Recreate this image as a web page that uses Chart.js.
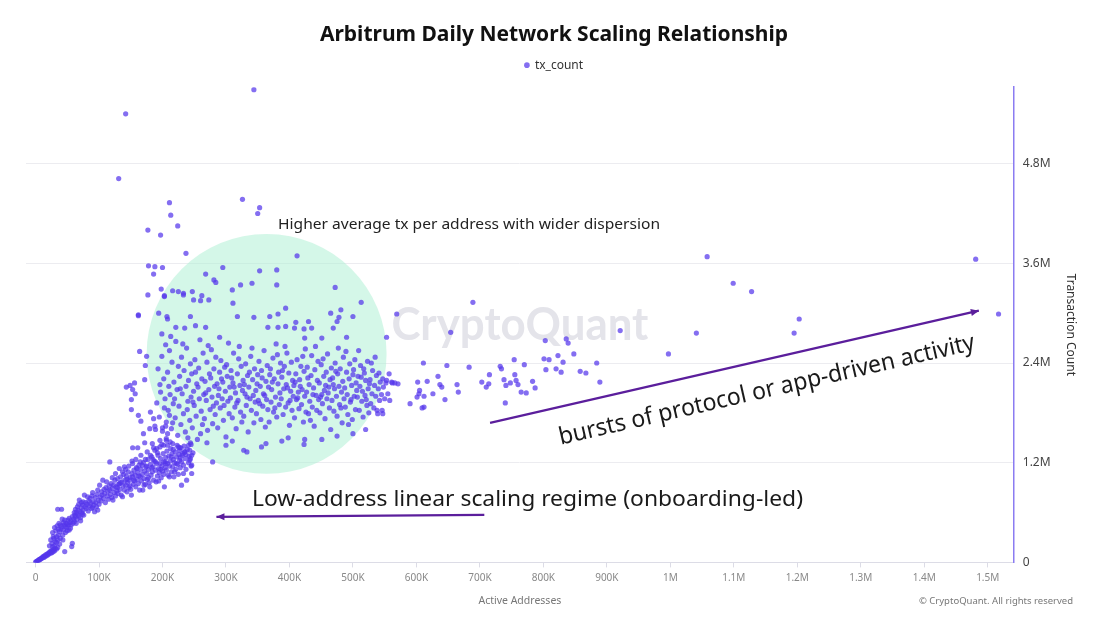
<!DOCTYPE html>
<html>
<head>
<meta charset="utf-8">
<script src="https://cdn.jsdelivr.net/npm/chart.js@4.4.1/dist/chart.umd.min.js"></script>
<style>
html,body{margin:0;padding:0;background:#fff;}
#wrap{width:1100px;height:619px;}
</style>
</head>
<body>
<div id="wrap"><canvas id="c" width="1100" height="619"></canvas></div>
<script>
// ---- DATA (active addresses in thousands, tx count in millions) ----
const lowRegime = [
[0,0.0],[1,0.01],[2,0.01],[3,0.02],[4,0.02],[5,0.03],[6,0.03],[7,0.04],[8,0.04],[9,0.05],[10,0.05],[11,0.06],[12,0.07],[13,0.06],[14,0.08],[15,0.07],[16,0.09],[17,0.08],[18,0.10],[19,0.09],[20,0.11],[21,0.10],[22,0.12],[23,0.13],[24,0.11],[25,0.14],[26,0.12],[27,0.15],[28,0.13],[29,0.16],[30,0.14],[31,0.17],[33,0.16],[35,0.18],
[27,0.19],[35,0.27],[27,0.36],[30,0.42],[33,0.31],[38,0.37],[43,0.33],[49,0.42],[54,0.48],[51,0.51],[58,0.55],[46,0.51],[41,0.43],[57,0.19],[58,0.23],[46,0.13],[35,0.64],[41,0.64],[31,0.25],[36,0.33],[39,0.29],[44,0.39],[47,0.36],[52,0.45],[55,0.41],[37,0.47],[42,0.52],[48,0.47],[29,0.29],[32,0.38],[34,0.44],[40,0.40],[45,0.45],[50,0.38],[53,0.53],[56,0.5],[60,0.52],[62,0.57],[38,0.22],[43,0.27],
[22,0.2],[24,0.27],[26,0.23],[28,0.31],[30,0.2],[33,0.24],[36,0.4],[39,0.45],[44,0.48],[47,0.43],[50,0.46],[53,0.39],[56,0.45],[59,0.47],[61,0.6],[63,0.64],[66,0.67],[68,0.7],[72,0.72],[74,0.58],
[61,0.49],[63,0.55],[64,0.6],[65,0.52],[66,0.58],[67,0.63],[68,0.56],[69,0.75],[70,0.61],[71,0.54],[72,0.66],[73,0.6],[74,0.69],[75,0.63],[76,0.57],[77,0.81],[78,0.67],[79,0.72],[80,0.65],[81,0.7],[82,0.79],[83,0.62],[84,0.74],[85,0.68],[86,0.77],[87,0.71],[88,0.65],[89,0.8],[90,0.84],[90,0.66],[91,0.73],[92,0.69],[93,0.61],[94,0.78],[95,0.72],[96,0.67],[97,0.82],[98,0.63],[98,0.87],[99,0.75],[100,0.7],[64,0.47],[71,0.5],[75,0.73],
[101,0.93],[102,0.79],[103,0.74],[104,0.85],[105,0.81],[106,0.99],[107,0.77],[108,0.88],[109,0.83],[110,0.72],[111,0.9],[112,0.97],[113,0.8],[114,0.86],[115,0.76],[116,0.92],[117,0.87],[117,1.21],[118,0.82],[119,0.95],[120,0.78],[121,0.89],[122,0.75],[123,0.93],[124,0.84],[125,0.99],[126,0.8],[127,0.91],[128,0.86],[129,1.01],[130,0.83],[131,0.94],[132,1.13],[132,0.95],[133,0.88],[134,1.03],[135,0.81],[136,0.97],[137,0.79],[138,0.92],[139,1.06],[140,1.15],[140,0.87],[141,0.99],[142,0.93],[143,1.04],[144,0.85],[145,0.96],[146,1.09],[147,0.9],[148,0.99],[149,1.02],[150,0.88],[151,0.81],[152,1.07],[153,1.03],[153,1.19],[154,0.94],[155,1.11],[156,0.98],[157,1.05],[158,0.91],[159,1.14],[160,1.0],
[161,1.08],[162,0.95],[163,1.17],[164,0.87],[165,1.03],[166,1.12],[167,0.98],[168,1.06],[169,0.87],[170,1.2],[171,1.01],[172,1.1],[173,0.94],[174,1.15],[175,1.07],[176,1.0],[177,1.24],[178,1.12],[179,0.96],[180,0.91],[181,1.18],[182,1.05],[183,1.27],[184,1.09],[185,1.15],[186,0.99],[187,1.22],[188,1.35],[189,1.11],[190,0.97],[191,1.19],[192,1.04],[193,1.29],[194,1.13],[195,1.08],[196,1.19],[196,1.39],[197,1.25],[198,1.02],[199,1.16],[200,1.1],[201,1.31],[202,1.21],[203,0.91],[204,1.14],[205,1.26],[206,1.11],[206,1.47],[207,1.34],[208,1.19],[209,1.05],[210,1.28],[211,1.16],[212,1.22],[213,1.37],[214,1.09],[215,1.31],[216,1.15],[216,1.43],[217,1.24],[218,1.03],[219,1.2],[220,1.33],[221,1.12],[222,1.27],[223,1.41],[224,1.18],[225,1.06],[226,1.3],[227,1.23],[227,1.35],[228,1.14],[229,1.38],[230,0.93],[230,1.21],[231,1.29],[232,1.31],[233,1.17],[234,1.4],[235,1.33],[236,1.25],[237,1.12],[238,0.99],[239,1.36],[240,1.5],[241,1.2],[242,1.28],[243,1.23],[243,1.35],[244,1.44],[245,1.16],[246,1.29],[246,1.17],[246,1.07],[248,1.32],[204,1.21],[185,1.24],[175,1.16],[165,1.21],
[121,1.02],[126,1.07],[129,0.9],[134,0.96],[137,1.09],[142,1.12],[144,1.0],[147,1.16],[149,0.92],[152,1.22],[155,0.99],[158,1.24],[160,1.13],[163,1.04],[166,1.29],[168,1.17],[171,0.93],[173,1.24],[176,1.33],[178,1.02],[181,1.29],[183,1.14],[186,1.38],[189,1.21],[192,1.32],[194,0.98],[197,1.12],[199,1.42],[202,1.06],[205,1.19],[208,1.41],[211,1.03],[214,1.27],[217,1.36],[219,1.09],[222,1.19],[225,1.39],[228,1.26],[233,1.07],[237,1.3],[241,1.41],[244,1.25]
];
const leftColumn = [
[180,1.61],[189,1.6],[181,1.81],[186,1.73],[200,1.62],[205,1.64],[208,1.55],[153,1.38],[161,1.38],[172,1.44],[184,1.43],[191,1.37],[196,1.47],[202,1.41],[206,1.49],[212,1.45],[227,1.38],[235,1.33],[162,2.98],[164,2.54],[175,2.48],[173,2.37],[172,2.2],[143,2.11],[149,2.13],[156,2.16],[153,2.08],[157,2.03],[151,1.96],[151,1.84],[162,1.77],[166,1.7],[170,1.55],[211,1.77],[216,1.68]
];
const dispersionCluster = [
[177,3.22],[268,3.47],[295,3.55],[353,3.51],[380,3.52],[380,3.34],[323,3.34],[341,3.36],[281,3.40],[284,3.37],[472,3.31],[513,3.13],[412,3.69],[247,3.26],[310,3.28],[233,3.22],[216,3.27],[203,3.2],[198,3.29],
[225,3.26],[233,3.24],[249,3.16],[262,3.21],[260,3.15],[273,3.16],[311,3.12],[203,3.21],
[162,2.97],[194,3.0],[207,2.96],[208,2.93],[244,2.96],[318,2.96],[344,2.95],[369,2.96],[382,2.99],[394,3.06],[481,3.04],[465,3.0],[478,2.95],[475,2.9],[500,2.96],[410,2.89],[430,2.9],
[199,2.75],[221,2.83],[235,2.82],[252,2.85],[268,2.83],[290,2.71],[366,2.83],[382,2.83],[394,2.84],[408,2.82],[423,2.81],[435,2.82],[424,2.7],[469,2.82],[490,2.71],[451,2.7],[213,2.72],
[188,1.64],[191,1.92],[193,2.33],[195,1.75],[197,2.05],[199,2.48],[200,1.58],[202,2.21],[203,1.86],[205,2.62],[196,2.14],[204,1.97],
[206,1.69],[208,2.29],[209,1.83],[211,2.55],[212,2.02],[214,1.61],[215,2.41],[217,1.91],[218,2.17],[220,1.74],[221,2.66],[223,2.08],[224,1.53],[225,2.36],[210,2.12],[219,1.97],
[226,1.88],[227,2.24],[229,1.66],[230,2.47],[231,2.03],[233,1.79],[234,2.31],[236,1.57],[237,2.12],[238,2.58],[240,1.94],[241,2.19],[243,1.71],[244,2.39],[245,1.99],[228,2.09],[239,1.84],[232,2.63],
[246,2.27],[247,1.62],[249,2.06],[250,1.89],[251,2.44],[253,1.76],[254,2.15],[255,1.48],[257,2.34],[258,1.97],[259,2.68],[261,1.82],[262,2.21],[263,1.66],[264,2.52],[265,2.02],[248,1.93],[256,2.11],[260,1.55],[252,2.29],
[266,1.73],[267,2.18],[269,1.95],[270,2.41],[271,1.59],[273,2.08],[274,2.27],[275,1.84],[277,2.56],[278,1.99],[279,1.67],[281,2.33],[282,2.12],[283,1.78],[284,2.47],[285,1.92],[268,2.04],[276,2.22],[280,1.88],[272,2.61],[286,2.15],
[287,1.62],[288,2.01],[290,2.29],[291,1.86],[292,2.43],[294,1.97],[295,2.17],[296,1.71],[298,2.35],[299,2.06],[300,1.51],[302,2.24],[303,1.94],[304,2.64],[305,1.79],[306,2.11],[289,2.09],[297,1.89],[301,2.38],[293,2.21],
[307,1.98],[308,2.31],[310,1.74],[311,2.16],[312,2.52],[314,1.87],[315,2.04],[316,1.61],[318,2.27],[319,1.95],[320,2.45],[322,2.13],[323,1.81],[324,2.36],[325,1.69],[326,2.07],[309,2.22],[317,1.92],[321,2.6],[313,2.11],
[327,2.19],[328,1.76],[330,2.03],[331,2.39],[332,1.89],[334,2.25],[335,1.57],[336,2.11],[338,1.97],[339,2.48],[340,1.83],[342,2.2],[343,2.01],[344,1.68],[345,2.33],[346,1.93],[329,2.14],[337,2.29],[341,2.58],[333,1.99],
[347,2.07],[348,1.79],[350,2.26],[351,1.95],[352,2.42],[354,2.12],[355,1.72],[356,2.31],[358,1.88],[359,2.03],[360,2.55],[362,1.63],[363,2.18],[364,1.96],[365,2.37],[366,1.84],[349,2.15],[357,2.22],[361,2.01],[353,1.91],
[367,2.11],[368,1.69],[370,2.33],[371,1.93],[372,2.08],[374,2.46],[375,1.81],[376,2.21],[378,1.99],[379,2.63],[380,1.75],[382,2.15],[383,2.29],[384,1.9],[385,2.04],[386,2.4],[369,2.26],[377,1.86],[381,2.5],[373,2.17],
[387,1.97],[388,2.23],[390,1.78],[391,2.09],[392,2.36],[394,1.87],[395,2.14],[396,2.52],[398,1.92],[399,2.28],[400,1.65],[402,2.06],[403,2.41],[404,1.83],[405,2.19],[406,2.0],[389,2.31],[397,2.1],[401,1.95],[393,2.6],
[407,2.13],[408,1.74],[410,2.27],[411,1.96],[412,2.44],[414,2.05],[415,1.85],[416,2.2],[418,2.36],[419,1.9],[420,2.08],[422,1.69],[423,2.3],[424,2.0],[425,2.57],[426,1.81],[409,2.17],[417,2.12],[421,2.48],[413,1.98],
[427,2.05],[428,2.35],[430,1.79],[431,2.14],[432,1.94],[434,2.25],[435,2.49],[436,1.87],[438,2.1],[439,1.64],[440,2.32],[442,2.01],[443,1.83],[444,2.19],[445,2.42],[446,1.96],[429,2.22],[437,2.02],[441,2.6],[433,1.71],
[447,2.16],[448,1.8],[450,2.38],[451,2.02],[452,1.91],[454,2.24],[455,2.07],[456,1.73],[458,2.29],[459,1.97],[460,2.51],[462,2.11],[463,1.86],[464,2.2],[465,1.6],[466,2.34],[449,1.99],[457,2.13],[461,2.04],[453,2.45],
[467,1.95],[468,2.22],[470,1.82],[471,2.09],[472,2.4],[474,2.0],[475,1.76],[476,2.27],[478,2.12],[479,1.9],[480,2.33],[482,2.05],[483,1.68],[484,2.18],[485,2.47],[486,1.97],[469,2.14],[477,2.58],[481,1.86],[473,2.3],
[487,2.1],[488,1.87],[490,2.29],[491,2.02],[492,1.78],[494,2.21],[495,2.39],[496,1.93],[498,2.13],[499,1.72],[500,2.26],[502,2.0],[503,2.44],[504,1.84],[505,2.16],[506,2.07],[489,2.54],[497,1.96],[501,2.32],[493,1.66],
[507,1.99],[508,2.24],[510,1.83],[511,2.12],[512,2.37],[514,1.94],[515,2.06],[516,1.75],[518,2.28],[519,2.01],[520,2.19],[522,1.89],[523,2.42],[524,2.09],[525,1.8],[526,2.15],[509,2.55],[517,2.33],[521,1.96],[513,2.23],
[527,2.2],[528,1.91],[530,2.03],[531,2.31],[533,1.86],[534,2.13],[536,2.0],[537,2.25],[539,1.79],[540,2.09],[542,1.95],[543,2.17],[545,2.02],[546,1.83],[548,2.11],[550,1.97],[529,2.4],[535,2.47],[541,2.28],[547,2.21],
[328,1.35],[333,1.33],[356,1.39],[363,1.43],[423,1.42],[424,1.48],[451,1.48],[388,1.46],[279,1.21],[300,1.41],[270,1.44],[245,1.42],[310,1.46],[398,1.5],[475,1.52],[500,1.55],[520,1.6],[538,1.83],[547,1.79],[553,2.19],[555,2.03],[558,1.95],[562,2.16]
];
const highOutliers = [
[131,4.62],[142,5.4],[344,5.69],[326,4.37],[211,4.33],[213,4.18],[224,4.05],[177,4.0],[197,3.94],[237,3.72],[353,4.27],[350,4.2],[178,3.57],[188,3.56],[200,3.55],[186,3.47]
];
const rightTail = [
[689,3.13],[569,2.99],[553,2.71],[654,2.77],[921,2.79],[803,2.67],[836,2.69],[839,2.64],[823,2.49],[801,2.45],[809,2.44],[848,2.51],[754,2.44],[831,2.41],[884,2.4],[997,2.51],[611,2.4],[648,2.37],[683,2.35],[732,2.36],[734,2.33],[770,2.38],[804,2.32],[820,2.33],[828,2.29],[858,2.3],[867,2.28],[557,2.27],[552,2.16],[561,2.17],[566,2.16],[571,2.15],[602,2.17],[617,2.18],[634,2.24],[637,2.14],[640,2.11],[664,2.14],[666,2.05],[605,2.07],[604,2.03],[626,2.03],[612,2.0],[601,1.99],[645,1.96],[590,1.91],[609,1.86],[612,1.87],[703,2.17],[710,2.11],[714,2.15],[715,2.26],[738,2.2],[741,2.13],[748,2.16],[755,2.26],[757,2.19],[760,2.14],[765,2.05],[773,2.04],[783,2.18],[787,2.1],[740,1.92],[889,2.17],[1058,3.68],[1099,3.36],[1128,3.26],[1203,2.93],[1195,2.76],[1041,2.76],[1481,3.65],[1517,2.99]
];
const xTickValues = [0,100000,200000,300000,400000,500000,600000,700000,800000,900000,1000000,1100000,1200000,1300000,1400000,1500000];
const yTickValues = [0,1200000,2400000,3600000,4800000];

// ---- annotation anchors (data units: K addresses, M tx) ----
const circleAnchor = {xK: 364, yM: 2.51, radiusK: 189};
const noteHigh = {xK: 382, yM: 4.07, text: 'Higher average tx per address with wider dispersion'};
const noteLow = {xK: 341, yM: 0.75, text: 'Low-address linear scaling regime (onboarding-led)', arrowFrom: [707, 0.573], arrowTo: [285, 0.549]};
const noteBurst = {xK: 1152, yM: 2.07, text: 'bursts of protocol or app-driven activity', arrowFrom: [716, 1.68], arrowTo: [1486, 3.03]};

const points = [...lowRegime, ...leftColumn, ...dispersionCluster, ...highOutliers, ...rightTail]
  .map(([a, t]) => ({x: a * 1000, y: t * 1e6}));

const FONT = "'Noto Sans', 'Open Sans', sans-serif";
const ARROW = '#5b1e9c';

function fmtX(v){ if (v === 0) return '0'; if (v >= 1e6) return (v/1e6) + 'M'; return (v/1e3) + 'K'; }
function fmtY(v){ if (v === 0) return '0'; return (v/1e6) + 'M'; }

function arrow(ctx, x1, y1, x2, y2){
  ctx.beginPath(); ctx.moveTo(x1, y1); ctx.lineTo(x2, y2); ctx.stroke();
  const ang = Math.atan2(y2 - y1, x2 - x1), L = 8, W = 3.5;
  ctx.beginPath();
  ctx.moveTo(x2, y2);
  ctx.lineTo(x2 - L*Math.cos(ang) + W*Math.sin(ang), y2 - L*Math.sin(ang) - W*Math.cos(ang));
  ctx.lineTo(x2 - L*Math.cos(ang) - W*Math.sin(ang), y2 - L*Math.sin(ang) + W*Math.cos(ang));
  ctx.closePath(); ctx.fill();
}
function fitText(ctx, text, x, y, targetW){
  const w = ctx.measureText(text).width;
  const s = targetW / w;
  ctx.save(); ctx.translate(x, y); ctx.scale(s, 1); ctx.fillText(text, 0, 0); ctx.restore();
}

const legendSpacer = {
  id: 'legendSpacer',
  beforeInit(chart){
    const orig = chart.legend.fit;
    chart.legend.fit = function(){ orig.call(this); this.height += 6; };
  }
};

const annotations = {
  id: 'annotations',
  beforeDatasetsDraw(chart){
    const {ctx, chartArea: a, scales: {x, y}} = chart;
    ctx.save();
    ctx.fillStyle = '#e4e4ea';
    ctx.font = "bold 46px 'Lato', sans-serif";
    ctx.textAlign = 'center'; ctx.textBaseline = 'middle';
    fitText(ctx, 'CryptoQuant', (a.left + a.right)/2, (a.top + a.bottom)/2, 257);
    const cx = x.getPixelForValue(circleAnchor.xK*1000), cy = y.getPixelForValue(circleAnchor.yM*1e6);
    const r = x.getPixelForValue(circleAnchor.radiusK*1000) - x.getPixelForValue(0);
    ctx.fillStyle = 'rgba(170,240,210,0.5)';
    ctx.beginPath(); ctx.arc(cx, cy, r, 0, Math.PI*2); ctx.fill();
    ctx.restore();
  },
  afterDatasetsDraw(chart){
    const {ctx, scales: {x, y}} = chart;
    const px = k => x.getPixelForValue(k*1000), py = m => y.getPixelForValue(m*1e6);
    ctx.save();
    ctx.fillStyle = '#222';
    ctx.textBaseline = 'middle'; ctx.textAlign = 'left';
    ctx.font = `15px ${FONT}`;
    fitText(ctx, noteHigh.text, px(noteHigh.xK), py(noteHigh.yM), 382);
    ctx.fillStyle = '#1a1a1a';
    ctx.font = `22px ${FONT}`;
    fitText(ctx, noteLow.text, px(noteLow.xK), py(noteLow.yM), 551);
    ctx.strokeStyle = ARROW; ctx.fillStyle = ARROW; ctx.lineWidth = 2.2;
    arrow(ctx, px(noteLow.arrowFrom[0]), py(noteLow.arrowFrom[1]), px(noteLow.arrowTo[0]), py(noteLow.arrowTo[1]));
    const bx1 = px(noteBurst.arrowFrom[0]), by1 = py(noteBurst.arrowFrom[1]);
    const bx2 = px(noteBurst.arrowTo[0]), by2 = py(noteBurst.arrowTo[1]);
    arrow(ctx, bx1, by1, bx2, by2);
    const ang = Math.atan2(by2 - by1, bx2 - bx1);
    ctx.save();
    ctx.translate(px(noteBurst.xK), py(noteBurst.yM));
    ctx.rotate(ang);
    ctx.fillStyle = '#1a1a1a';
    ctx.textAlign = 'center';
    ctx.font = `24px ${FONT}`;
    fitText(ctx, noteBurst.text, 0, 0, 426);
    ctx.restore();
    // credit
    ctx.fillStyle = '#777';
    ctx.font = `9.5px ${FONT}`;
    ctx.textAlign = 'right';
    ctx.fillText('© CryptoQuant. All rights reserved', 1073, 601);
    ctx.restore();
  }
};

new Chart(document.getElementById('c'), {
  type: 'scatter',
  data: { datasets: [{
    label: 'tx_count',
    data: points,
    backgroundColor: 'rgba(84,54,236,0.72)',
    borderWidth: 0,
    pointRadius: 2.6,
    pointHoverRadius: 2.6
  }]},
  options: {
    responsive: false,
    animation: false,
    devicePixelRatio: 1,
    layout: { padding: { left: 26, right: 18, top: 12, bottom: 12 } },
    plugins: {
      title: { display: true, text: 'Arbitrum Daily Network Scaling Relationship', color: '#111',
        font: { family: FONT, size: 21, weight: 'bold' }, padding: { top: 10, bottom: 0 } },
      legend: { display: true, labels: { usePointStyle: true, pointStyle: 'circle', boxWidth: 4, boxHeight: 4,
        color: '#333', font: { family: FONT, size: 12 }, padding: 12 } },
      tooltip: { enabled: false }
    },
    scales: {
      x: {
        type: 'linear', min: -15000, max: 1541000,
        afterBuildTicks: s => { s.ticks = xTickValues.map(v => ({value: v})); },
        ticks: { callback: fmtX, color: '#888', font: { family: FONT, size: 10 }, maxRotation: 0, autoSkip: false, padding: 5 },
        grid: { display: true, drawOnChartArea: false, drawTicks: true, tickLength: 5, color: '#dcdce6' },
        border: { display: true, color: '#dcdce6' },
        title: { display: true, text: 'Active Addresses', color: '#777', font: { family: FONT, size: 10.5 }, padding: { top: 5, bottom: 0 } }
      },
      y: {
        type: 'linear', position: 'right', min: 0, max: 5720000,
        afterBuildTicks: s => { s.ticks = yTickValues.map(v => ({value: v})); },
        ticks: { callback: fmtY, color: '#444', font: { family: FONT, size: 12 }, padding: 9 },
        grid: { display: true, drawTicks: false, color: '#ececf0', lineWidth: 1, borderDash: [3, 3] },
        border: { display: true, color: '#8b7cf2', width: 1.5 },
        title: { display: true, text: 'Transaction Count', color: '#333', font: { family: FONT, size: 12 }, padding: { top: 4, bottom: 4 } }
      }
    }
  },
  plugins: [legendSpacer, annotations]
});
</script>
</body>
</html>
